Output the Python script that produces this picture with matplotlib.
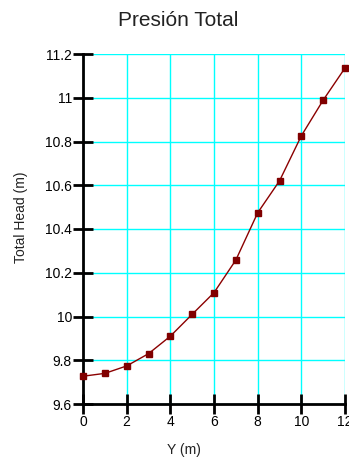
import matplotlib
matplotlib.use("Agg")
import matplotlib.pyplot as plt

# datos
y_m = [0, 1, 2, 3, 4, 5, 6, 7, 8, 9, 10, 11, 12]
total_head = [9.727, 9.74, 9.774, 9.83, 9.91, 10.01, 10.109, 10.258,
              10.474, 10.62, 10.826, 10.989, 11.136]
x_ticks = [0, 2, 4, 6, 8, 10, 12]
y_ticks = [9.6, 9.8, 10, 10.2, 10.4, 10.6, 10.8, 11, 11.2]
y_tick_labels = ["9.6", "9.8", "10", "10.2", "10.4", "10.6", "10.8", "11", "11.2"]

plt.rcParams['font.family'] = ['Liberation Sans', 'DejaVu Sans']

W, H = 349, 462
fig = plt.figure(figsize=(W / 100, H / 100), dpi=100)
ax = fig.add_axes([83 / W, 1 - 404 / H, 262 / W, 350 / H])

ax.plot(y_m, total_head, color="#8B0000", linewidth=1, marker="s",
        markersize=5, markerfacecolor="#800000", markeredgecolor="#800000",
        clip_on=False, zorder=3)

ax.set_xlim(0, 12)
ax.set_ylim(9.6, 11.2)
ax.set_xticks(x_ticks)
ax.set_yticks(y_ticks)
ax.set_yticklabels(y_tick_labels)

ax.grid(True, color="#00FFFF", linewidth=1)
ax.set_axisbelow(True)

for s in ["top", "right"]:
    ax.spines[s].set_visible(False)
for s in ["left", "bottom"]:
    ax.spines[s].set_linewidth(2)
ax.tick_params(direction="inout", length=14, width=2, labelsize=10, pad=1)

# títulos colocados como en la imagen original
fig.text(178 / W, 1 - 20 / H, "Presión Total", fontsize=15,
         ha="center", va="center", color="#222222")
fig.text(184 / W, 1 - 450 / H, "Y (m)", fontsize=10,
         ha="center", va="center", color="#222222")
fig.text(21 / W, 1 - 217 / H, "Total Head (m)", fontsize=10, rotation=90,
         ha="center", va="center", color="#222222")

fig.savefig("out.png", dpi=100)
